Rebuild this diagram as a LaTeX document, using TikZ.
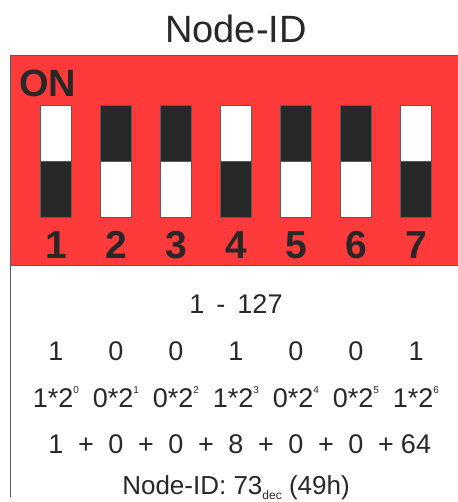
\documentclass[tikz,border=0pt]{standalone}
\usepackage{fontspec}
\setmainfont{Liberation Sans}
\definecolor{dipred}{RGB}{255,58,58}
\definecolor{ink}{RGB}{40,40,40}
\definecolor{edge}{RGB}{90,90,90}
\begin{document}
\begin{tikzpicture}[x=1pt,y=1pt,
  txt/.style={inner sep=0pt,anchor=base,text=ink,font=\fontsize{27}{27}\selectfont},
  num/.style={inner sep=0pt,anchor=base,text=ink,font=\bfseries\fontsize{39}{39}\selectfont},
  blk/.style={fill=ink,draw=edge,line width=0.8pt},
  wht/.style={fill=white,draw=edge,line width=0.8pt}]
\useasboundingbox (0,0) rectangle (457,-502);
\fill[white] (0,0) rectangle (457,-502);
% title
\node[inner sep=0pt,anchor=base,text=ink,font=\fontsize{38}{38}\selectfont] (title) at (236,-43) {Node-ID};
% red body
\fill[dipred] (10,-55) rectangle (460,-265);
\draw[edge,line width=0.9pt] (460,-55) -- (10,-55) -- (10,-497);
\draw[edge,line width=0.9pt] (10,-265) -- (460,-265);
\node[inner sep=0pt,anchor=base west,text=ink,font=\bfseries\fontsize{38}{38}\selectfont] (on) at (19,-97) {ON};
% switches: state 1 = white top / black bottom
\foreach \i/\s in {1/1,2/0,3/0,4/1,5/0,6/0,7/1}{
  \pgfmathsetmacro{\cx}{56+60*(\i-1)}
  \ifnum\s=1
    \draw[wht] (\cx-15.5,-105) rectangle (\cx+15.5,-161);
    \draw[blk] (\cx-15.5,-161) rectangle (\cx+15.5,-217);
  \else
    \draw[blk] (\cx-15.5,-105) rectangle (\cx+15.5,-161);
    \draw[wht] (\cx-15.5,-161) rectangle (\cx+15.5,-217);
  \fi
  \node[num] (n\i) at (\cx,-258) {\i};
}
% range
\node[txt] (range) at (236,-313) {1 \,-\, 127};
% bits
\foreach \i/\b in {1/1,2/0,3/0,4/1,5/0,6/0,7/1}{
  \pgfmathsetmacro{\cx}{56+60*(\i-1)}
  \node[txt] (b\i) at (\cx,-360) {\b};
  \pgfmathtruncatemacro{\e}{\i-1}
  \node[txt] (p\i) at (\cx,-407) {\b*2\raisebox{0.5em}{\fontsize{10}{10}\selectfont\e}};
}
% sum
\foreach \i/\v in {1/1,2/0,3/0,4/8,5/0,6/0,7/64}{
  \pgfmathsetmacro{\cx}{56+60*(\i-1)}
  \node[txt] (s\i) at (\cx,-453) {\v};
}
\foreach \i in {1,...,6}{
  \pgfmathsetmacro{\cx}{86+60*(\i-1)}
  \node[txt] (plus\i) at (\cx,-453) {+};
}
\node[txt,font=\fontsize{26}{26}\selectfont] (result) at (236,-494) {Node-ID: 73\raisebox{-0.2em}{\fontsize{12}{12}\selectfont dec} (49h)};
\end{tikzpicture}
\end{document}
